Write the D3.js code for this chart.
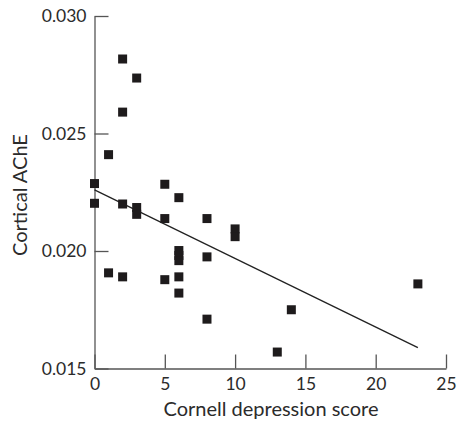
<!DOCTYPE html>
<html>
<head>
<meta charset="utf-8">
<script src="https://cdn.jsdelivr.net/npm/d3@7"></script>
<style>
  body { margin: 0; background: #fff; }
  svg text { font-family: Lato, "Open Sans", sans-serif; fill: #2b2b2b; }
</style>
</head>
<body>
<script>
const w = 457;
const h = 425;

// depression score vs cortical AChE
const scores = [1, 0, 0, 2, 3, 3, 5, 6, 5, 8, 6, 6, 6, 8, 1, 2, 5, 6, 6, 8, 14, 13, 10, 10, 23, 2, 3, 2];
const ache = [0.0241, 0.02287, 0.02203, 0.0220, 0.02185, 0.02156, 0.02284, 0.02227, 0.02138, 0.02138,
              0.02002, 0.01981, 0.01959, 0.01975, 0.01907, 0.0189, 0.01878, 0.0189, 0.01821, 0.0171,
              0.0175, 0.0157, 0.02094, 0.02061, 0.0186, 0.02817, 0.02736, 0.02591];

// fitted line end points
const fitX = [0, 23];
const fitY = [0.0226, 0.01589];

const xTicks = [0, 5, 10, 15, 20, 25];
const yTicks = [0.015, 0.020, 0.025, 0.030];

const svg = d3.select("body")
    .append("svg")
    .attr("width", w)
    .attr("height", h)
    ;

const plotLeft = 94.5;
const plotRight = 446;
const plotTop = 16;
const plotBottom = 368.5;

const xScale = d3.scaleLinear()
    .domain([0, 25])
    .range([plotLeft, plotRight])
    ;

const yScale = d3.scaleLinear()
    .domain([0.015, 0.030])
    .range([plotBottom, plotTop])
    ;

const xAxis = d3.axisBottom(xScale)
    .tickValues(xTicks)
    .tickSizeInner(-14)
    .tickSizeOuter(0)
    .tickPadding(9)
    ;
const yAxis = d3.axisLeft(yScale)
    .tickValues(yTicks)
    .tickFormat(d3.format(".3f"))
    .tickSizeInner(-14)
    .tickSizeOuter(0)
    .tickPadding(8)
    ;

const gx = svg.append("g")
    .attr("transform", "translate(0, " + plotBottom + ")")
    .call(xAxis)
    ;
const gy = svg.append("g")
    .attr("transform", "translate(" + plotLeft + ", 0)")
    .call(yAxis)
    ;

[gx, gy].forEach(g => {
    g.selectAll("path, line").attr("stroke", "#555").attr("stroke-width", 1.3);
    g.selectAll("text").attr("font-size", 17.5).attr("font-family", null);
});

// regression line
svg.append("line")
    .attr("x1", xScale(fitX[0]))
    .attr("y1", yScale(fitY[0]))
    .attr("x2", xScale(fitX[1]))
    .attr("y2", yScale(fitY[1]))
    .attr("stroke", "#222")
    .attr("stroke-width", 1.3)
    ;

const sq = 9;
svg.selectAll("rect.pt")
    .data(scores)
    .enter()
    .append("rect")
    .attr("class", "pt")
    .attr("x", d => xScale(d) - sq / 2)
    .attr("y", (d, i) => yScale(ache[i]) - sq / 2)
    .attr("width", sq)
    .attr("height", sq)
    .attr("fill", "#1e1b1c")
    ;

svg.append("text")
    .attr("x", 271)
    .attr("y", 416)
    .attr("text-anchor", "middle")
    .attr("font-size", 20)
    .text("Cornell depression score")
    ;

svg.append("text")
    .attr("transform", "translate(27, 195) rotate(-90)")
    .attr("text-anchor", "middle")
    .attr("font-size", 20)
    .text("Cortical AChE")
    ;
</script>
</body>
</html>
